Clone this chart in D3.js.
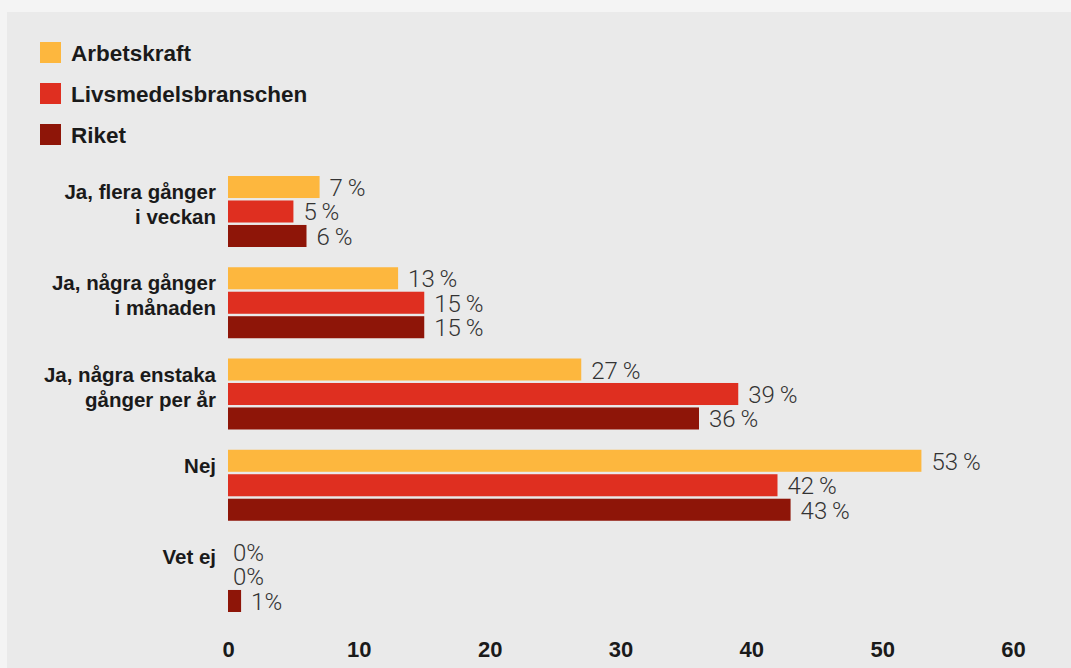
<!DOCTYPE html>
<html>
<head>
<meta charset="utf-8">
<script src="https://cdn.jsdelivr.net/npm/d3@7"></script>
<style>
  body { margin: 0; background: #f4f4f4; }
  svg { display: block; }
</style>
</head>
<body>
<svg id="chart" width="1071" height="668"></svg>
<script>
// data
var categories = [
  ["Ja, flera gånger", "i veckan"],
  ["Ja, några gånger", "i månaden"],
  ["Ja, några enstaka", "gånger per år"],
  ["Nej"],
  ["Vet ej"]
];
var seriesNames = ["Arbetskraft", "Livsmedelsbranschen", "Riket"];
var arbetskraft = [7, 13, 27, 53, 0];
var livsmedel = [5, 15, 39, 42, 0];
var riket = [6, 15, 36, 43, 1];
var xTicks = [0, 10, 20, 30, 40, 50, 60];

var colors = ["#fdb73e", "#df2f20", "#8e1508"];
var width = 1071, height = 668;
var boldFont = "'Liberation Sans', Arial, sans-serif";

var svg = d3.select("svg#chart");

// grey panel
svg.append("rect")
  .attr("x", 7).attr("y", 12)
  .attr("width", width - 7).attr("height", height - 12)
  .attr("fill", "#eaeaea");

// legend
var legend = svg.append("g").attr("transform", "translate(40,42)");
seriesNames.forEach(function (name, i) {
  var row = legend.append("g").attr("transform", "translate(0," + (i * 41) + ")");
  row.append("rect")
    .attr("width", 21).attr("height", 21)
    .attr("fill", colors[i]);
  row.append("text")
    .attr("x", 31).attr("y", 19)
    .attr("font-family", boldFont)
    .attr("font-weight", 700)
    .attr("font-size", 22.5)
    .attr("fill", "#1a1a1a")
    .text(name);
});

var x = d3.scaleLinear().domain([0, 60]).range([228, 1013]);
var y = d3.scaleBand().domain(d3.range(categories.length)).range([176, 612]).paddingInner(0.222).paddingOuter(0);
var ySub = d3.scaleBand().domain(d3.range(3)).range([0, y.bandwidth()]).paddingInner(0.1);

var series = [arbetskraft, livsmedel, riket];

var groups = svg.selectAll("g.group")
  .data(categories)
  .enter().append("g")
    .attr("class", "group")
    .attr("transform", (d, i) => "translate(0," + y(i) + ")");

groups.each(function (cat, ci) {
  var g = d3.select(this);
  var rows = series.map((s, si) => ({ v: s[ci], si: si }));

  g.selectAll("rect.bar")
    .data(rows.filter(r => r.v > 0))
    .enter().append("rect")
      .attr("class", "bar")
      .attr("x", x(0))
      .attr("y", r => ySub(r.si))
      .attr("width", r => x(r.v) - x(0))
      .attr("height", ySub.bandwidth())
      .attr("fill", r => colors[r.si]);

  g.selectAll("text.val")
    .data(rows)
    .enter().append("text")
      .attr("class", "val")
      .attr("x", r => x(r.v) + (r.v > 0 ? 10 : 5))
      .attr("y", r => ySub(r.si) + ySub.bandwidth() / 2 + 9)
      .attr("font-family", "Roboto, sans-serif")
      .attr("font-weight", 300)
      .attr("font-size", 24)
      .attr("fill", "#333")
      .text(r => cat[0] === "Vet ej" ? r.v + "%" : r.v + "\u2009%");

  g.append("text")
    .attr("text-anchor", "end")
    .attr("font-family", boldFont)
    .attr("font-weight", 700)
    .attr("font-size", 20.5)
    .attr("fill", "#1a1a1a")
    .selectAll("tspan")
    .data(cat)
    .enter().append("tspan")
      .attr("x", 216)
      .attr("y", (d, i) => ySub(0) + ySub.bandwidth() / 2 + 12 + i * 25)
      .text(d => d);
});

// x axis labels
var axis = svg.append("g")
  .attr("transform", "translate(0,657)")
  .call(d3.axisBottom(x).tickValues(xTicks).tickSize(0).tickPadding(0));
axis.select(".domain").remove();
axis.selectAll("text")
  .attr("y", 0).attr("dy", 0)
  .attr("font-family", boldFont)
  .attr("font-weight", 700)
  .attr("font-size", 22)
  .attr("fill", "#1a1a1a");
</script>
</body>
</html>
